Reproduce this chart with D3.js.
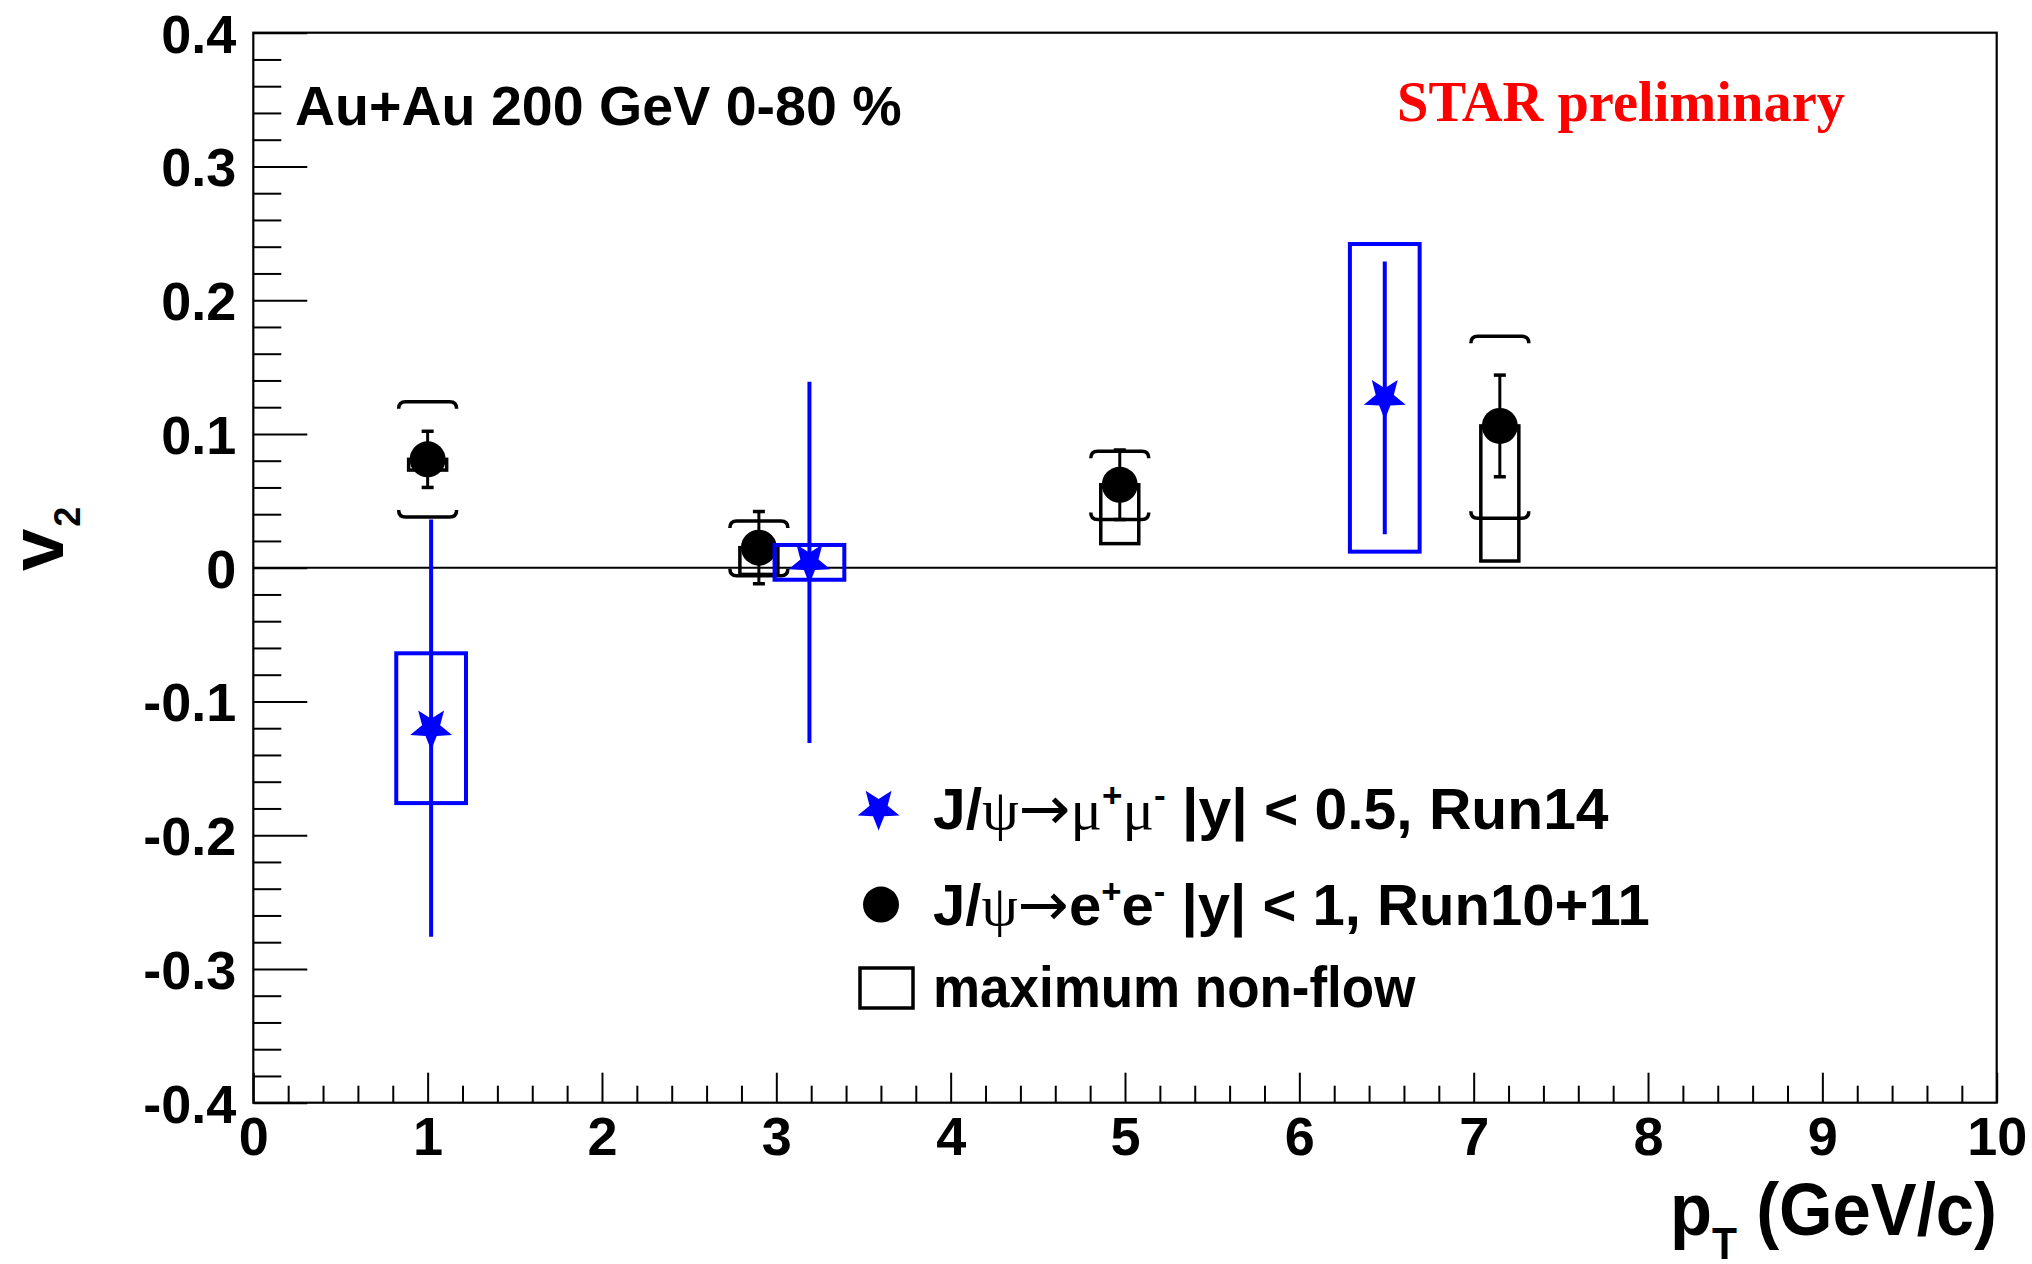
<!DOCTYPE html>
<html>
<head>
<meta charset="utf-8">
<script src="https://cdn.jsdelivr.net/npm/d3@7"></script>
<style>
  html, body { margin: 0; padding: 0; background: #fff; }
  svg { display: block; }
</style>
</head>
<body>
<svg id="chart" width="2032" height="1264"></svg>
<script>
// ---------------- DATA ----------------
// J/psi -> mu+ mu-, |y|<0.5, Run14 (blue stars)
const ptMu   = [1.02, 3.19, 6.49];
const v2Mu   = [-0.120, 0.004, 0.127];
const statMu = [0.156, 0.135, 0.102];
const sysMu  = [0.056, 0.013, 0.115];
const binHalfMu = [0.2, 0.2, 0.2];

// J/psi -> e+ e-, |y|<1, Run10+11 (black circles)
const ptE       = [1.0, 2.9, 4.97, 7.15];
const v2E       = [0.081, 0.015, 0.062, 0.106];
const statE     = [0.021, 0.027, 0.026, 0.038];
const sysUpE    = [0.043, 0.020, 0.025, 0.067];
const sysDownE  = [0.043, 0.021, 0.026, 0.069];
const nonFlowE  = [0.008, 0.020, 0.044, 0.101];

// axes
const xTicks      = [0,1,2,3,4,5,6,7,8,9,10];
const xTickLabels = ["0","1","2","3","4","5","6","7","8","9","10"];
const yTicks      = [-0.4,-0.3,-0.2,-0.1,0,0.1,0.2,0.3,0.4];
const yTickLabels = ["-0.4","-0.3","-0.2","-0.1","0","0.1","0.2","0.3","0.4"];

const titleText  = "Au+Au 200 GeV 0-80 %";
const starText   = "STAR preliminary";
const legendMu   = ["J/", "ψ", "→", "μ", "+", "μ", "-", " |y| < 0.5, Run14"];
const legendE    = ["J/", "ψ", "→", "e", "+", "e", "-", " |y| < 1, Run10+11"];
const legendBox  = "maximum non-flow";

// ---------------- LAYOUT ----------------
const svg = d3.select("#chart");
svg.append("rect").attr("width", 2032).attr("height", 1264).attr("fill", "#fff");

const L = 253.3, R = 1996.7, T = 32.7, B = 1102.7;
const x = d3.scaleLinear().domain([0, 10]).range([L, R]);
const y = d3.scaleLinear().domain([-0.4, 0.4]).range([B, T]);

const SANS = "'Liberation Sans', Arial, Helvetica, sans-serif";
const SERIF = "'Liberation Serif', 'Times New Roman', serif";
const ARROW = "'DejaVu Sans', sans-serif";

function fitWidth(sel, target, pivot) {
  const node = sel.node();
  const bb = node.getBBox();
  const k = target / bb.width;
  const px = pivot === "end" ? bb.x + bb.width : bb.x;
  sel.attr("transform", `translate(${px},0) scale(${k},1) translate(${-px},0)`);
}

// minor ticks
const xMinor = d3.range(0, 10.0001, 0.2).filter(v => Math.abs(v - Math.round(v)) > 1e-6);
const yMinor = d3.range(-0.4, 0.40001, 0.02).filter(v => Math.abs(v * 10 - Math.round(v * 10)) > 1e-6);

const gx = svg.append("g").attr("transform", `translate(0,${B})`);
gx.call(d3.axisBottom(x).tickValues(xMinor).tickSize(-17).tickFormat(""));
gx.call(g => g.selectAll(".domain").remove());
const gx2 = svg.append("g").attr("transform", `translate(0,${B})`);
gx2.call(d3.axisBottom(x).tickValues(xTicks).tickSize(-30).tickPadding(14)
  .tickFormat((d, i) => xTickLabels[i]));
gx2.select(".domain").remove();

const gy = svg.append("g").attr("transform", `translate(${L},0)`);
gy.call(d3.axisLeft(y).tickValues(yMinor).tickSize(-28).tickFormat(""));
gy.call(g => g.selectAll(".domain").remove());
const gy2 = svg.append("g").attr("transform", `translate(${L},0)`);
gy2.call(d3.axisLeft(y).tickValues(yTicks).tickSize(-54).tickPadding(17)
  .tickFormat((d, i) => yTickLabels[i]));
gy2.select(".domain").remove();

svg.selectAll(".tick line").attr("stroke", "#000").attr("stroke-width", 2);
svg.selectAll(".tick text").attr("fill", "#000")
  .attr("font-family", SANS).attr("font-weight", "bold").attr("font-size", 54);
gy2.selectAll(".tick text").attr("dy", "0.36em");

// frame
svg.append("rect").attr("x", L).attr("y", T).attr("width", R - L).attr("height", B - T)
  .attr("fill", "none").attr("stroke", "#000").attr("stroke-width", 2.2);

// zero line
svg.append("line").attr("x1", x(0)).attr("x2", x(10)).attr("y1", y(0)).attr("y2", y(0))
  .attr("stroke", "#000").attr("stroke-width", 2);

// ---------------- ELECTRON (black) ----------------
const gE = svg.append("g");
const nfHalfPx = 19, brHalfPx = 29, hook = 7, capPx = 6, rCirc = 18;
ptE.forEach((p, i) => {
  const cx = x(p);
  gE.append("rect").attr("x", cx - nfHalfPx).attr("width", 2 * nfHalfPx)
    .attr("y", y(v2E[i])).attr("height", y(v2E[i] - nonFlowE[i]) - y(v2E[i]))
    .attr("fill", "none").attr("stroke", "#000").attr("stroke-width", 3.5);
  const yt = y(v2E[i] + sysUpE[i]), yb = y(v2E[i] - sysDownE[i]);
  gE.append("path").attr("d",
    `M${cx - brHalfPx},${yt + hook} Q${cx - brHalfPx},${yt} ${cx - brHalfPx + hook},${yt} ` +
    `L${cx + brHalfPx - hook},${yt} Q${cx + brHalfPx},${yt} ${cx + brHalfPx},${yt + hook}`)
    .attr("fill", "none").attr("stroke", "#000").attr("stroke-width", 3.5);
  gE.append("path").attr("d",
    `M${cx - brHalfPx},${yb - hook} Q${cx - brHalfPx},${yb} ${cx - brHalfPx + hook},${yb} ` +
    `L${cx + brHalfPx - hook},${yb} Q${cx + brHalfPx},${yb} ${cx + brHalfPx},${yb - hook}`)
    .attr("fill", "none").attr("stroke", "#000").attr("stroke-width", 3.5);
  const st = y(v2E[i] + statE[i]), sb = y(v2E[i] - statE[i]);
  gE.append("line").attr("x1", cx).attr("x2", cx).attr("y1", st).attr("y2", sb)
    .attr("stroke", "#000").attr("stroke-width", 3);
  [st, sb].forEach(yy => gE.append("line").attr("x1", cx - capPx).attr("x2", cx + capPx)
    .attr("y1", yy).attr("y2", yy).attr("stroke", "#000").attr("stroke-width", 3.5));
  gE.append("circle").attr("cx", cx).attr("cy", y(v2E[i])).attr("r", rCirc).attr("fill", "#000");
});

// ---------------- MUON (blue) ----------------
const BLUE = "#0000ff";
function starPath(cx, cy, Ro, Ri) {
  const pts = [];
  for (let k = 0; k < 10; k++) {
    const a = Math.PI / 2 + k * Math.PI / 5;
    const rr = k % 2 === 0 ? Ro : Ri;
    pts.push([cx + rr * Math.cos(a), cy + rr * Math.sin(a)]);
  }
  return "M" + pts.map(p => p.join(",")).join("L") + "Z";
}
const gM = svg.append("g");
ptMu.forEach((p, i) => {
  const cx = x(p);
  gM.append("rect").attr("x", x(p - binHalfMu[i])).attr("width", x(p + binHalfMu[i]) - x(p - binHalfMu[i]))
    .attr("y", y(v2Mu[i] + sysMu[i])).attr("height", y(v2Mu[i] - sysMu[i]) - y(v2Mu[i] + sysMu[i]))
    .attr("fill", "none").attr("stroke", BLUE).attr("stroke-width", 4);
  gM.append("line").attr("x1", cx).attr("x2", cx)
    .attr("y1", y(v2Mu[i] + statMu[i])).attr("y2", y(v2Mu[i] - statMu[i]))
    .attr("stroke", BLUE).attr("stroke-width", 4);
  gM.append("path").attr("d", starPath(cx, y(v2Mu[i]), 22, 9.5)).attr("fill", BLUE);
});

// ---------------- TEXTS ----------------
const title = svg.append("text").attr("x", 295).attr("y", 125)
  .attr("font-family", SANS).attr("font-weight", "bold").attr("font-size", 55)
  .attr("fill", "#000").text(titleText);
fitWidth(title, 607, "start");

const star = svg.append("text").attr("x", 1397).attr("y", 121)
  .attr("font-family", SERIF).attr("font-weight", "bold").attr("font-size", 56)
  .attr("fill", "#ff0000").text(starText);
fitWidth(star, 448, "start");

// y axis title v_2
const yt = svg.append("text").attr("transform", "translate(63,571) rotate(-90)")
  .attr("font-family", SANS).attr("font-weight", "bold").attr("fill", "#000");
yt.append("tspan").attr("font-size", 76).text("v");
yt.append("tspan").attr("font-size", 36).attr("dy", 17).attr("dx", 2).text("2");

// x axis title p_T (GeV/c)
const xt = svg.append("text").attr("x", 1997).attr("y", 1235).attr("text-anchor", "end")
  .attr("font-family", SANS).attr("font-weight", "bold").attr("fill", "#000");
xt.append("tspan").attr("font-size", 74).text("p");
xt.append("tspan").attr("font-size", 44).attr("dy", 24).text("T");
xt.append("tspan").attr("font-size", 74).attr("dy", -24).text(" (GeV/c)");
fitWidth(xt, 327, "end");

// ---------------- LEGEND ----------------
const gL = svg.append("g");
const legX = 933, LFS = 57;
gL.append("path").attr("d", starPath(878.6, 808.6, 22, 9.5)).attr("fill", BLUE);
gL.append("circle").attr("cx", 881).attr("cy", 904.6).attr("r", rCirc).attr("fill", "#000");
gL.append("rect").attr("x", 860).attr("y", 968).attr("width", 53).attr("height", 40)
  .attr("fill", "none").attr("stroke", "#000").attr("stroke-width", 3.5);

function legendRich(parts, yBase, kinds) {
  const t = gL.append("text").attr("x", legX).attr("y", yBase)
    .attr("font-family", SANS).attr("font-weight", "bold").attr("font-size", LFS).attr("fill", "#000");
  parts.forEach((s, i) => {
    const k = kinds[i];
    const ts = t.append("tspan").text(s);
    if (k === "greek") ts.attr("font-family", SERIF).attr("font-weight", "normal");
    if (k === "arrow") ts.attr("font-family", ARROW).attr("font-weight", "normal").attr("font-size", 60);
    if (k === "sup") ts.attr("font-size", 34).attr("dy", -22);
    if (k === "afterG") ts.attr("dy", 22).attr("font-family", SERIF).attr("font-weight", "normal");
    if (k === "after") ts.attr("dy", 22);
  });
  return t;
}
const l1 = legendRich(legendMu, 829, ["n", "greek", "arrow", "greek", "sup", "afterG", "sup", "after"]);
fitWidth(l1, 676, "start");
const l2 = legendRich(legendE, 925, ["n", "greek", "arrow", "n", "sup", "after", "sup", "after"]);
fitWidth(l2, 717, "start");
const l3 = gL.append("text").attr("x", legX).attr("y", 1007)
  .attr("font-family", SANS).attr("font-weight", "bold").attr("font-size", LFS).attr("fill", "#000")
  .text(legendBox);
fitWidth(l3, 483, "start");
</script>
</body>
</html>
